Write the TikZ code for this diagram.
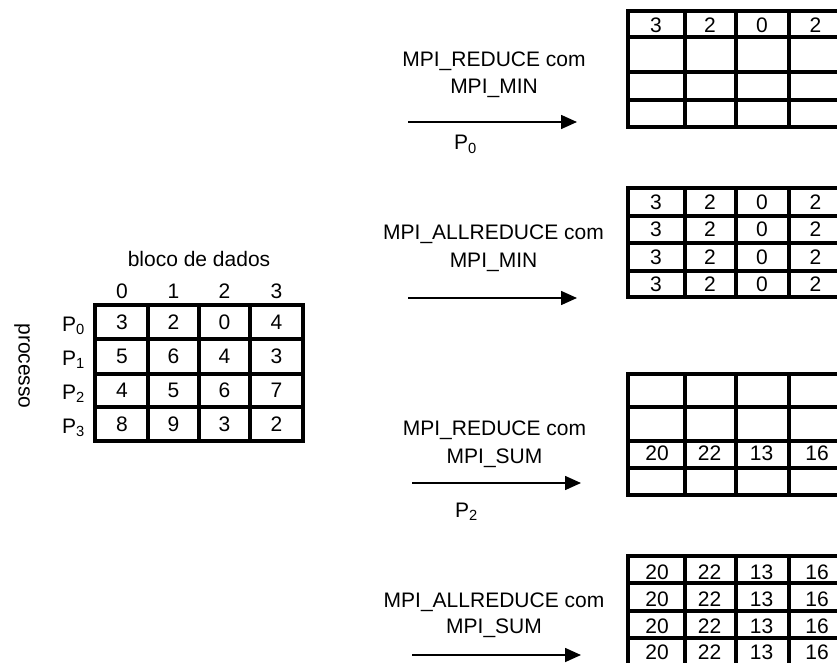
\documentclass[tikz,border=0pt]{standalone}
\usepackage{fontspec}
\setmainfont{Liberation Sans}
\usetikzlibrary{arrows.meta}
\begin{document}
\begin{tikzpicture}[x=1pt,y=-1pt,
  grid/.style={line width=3.4pt},
  lbl/.style={inner sep=0pt,anchor=base,font=\fontsize{21}{25}\selectfont},
  cell/.style={inner sep=0pt,anchor=center,font=\fontsize{21}{25}\selectfont},
  flow/.style={line width=1.6pt,-{Triangle[length=16pt,width=14pt]}}]
\useasboundingbox (0,0) rectangle (837,663);
\clip (0,0) rectangle (837,663);

% ---------- left table ----------
\node[lbl] (title) at (199,266) {bloco de dados};
\node[lbl] (h0) at (122,298) {0};
\node[lbl] (h1) at (173.5,298) {1};
\node[lbl] (h2) at (224.5,298) {2};
\node[lbl] (h3) at (276.5,298) {3};
\node[lbl,anchor=base west] (p0) at (62,331) {P\textsubscript{0}};
\node[lbl,anchor=base west] (p1) at (62,365) {P\textsubscript{1}};
\node[lbl,anchor=base west] (p2) at (62,399) {P\textsubscript{2}};
\node[lbl,anchor=base west] (p3) at (62,433) {P\textsubscript{3}};
\node[cell,rotate=-90] (proc) at (22,366) {processo};

\draw[grid] (95,305) rectangle (303,441);
\foreach \x in {148,199,250} \draw[grid] (\x,305) -- (\x,441);
\foreach \y in {339,374,407} \draw[grid] (95,\y) -- (303,\y);
\foreach \r/\y/\a/\b/\c/\d in {0/322/3/2/0/4,1/356.5/5/6/4/3,2/390.5/4/5/6/7,3/424/8/9/3/2}{
  \node[cell] (L\r-0) at (122,\y) {\a};
  \node[cell] (L\r-1) at (173.5,\y) {\b};
  \node[cell] (L\r-2) at (224.5,\y) {\c};
  \node[cell] (L\r-3) at (276.5,\y) {\d};
}

% ---------- right tables: grid lines ----------
% table 1
\draw[grid] (628,11) rectangle (842,127);
\foreach \x in {685,736,789} \draw[grid] (\x,11) -- (\x,127);
\foreach \y in {37,72,100} \draw[grid] (628,\y) -- (842,\y);
% table 2
\draw[grid] (628,188) rectangle (842,297);
\foreach \x in {685,736,789} \draw[grid] (\x,188) -- (\x,297);
\foreach \y in {216,243,271} \draw[grid] (628,\y) -- (842,\y);
% table 3
\draw[grid] (628,374) rectangle (842,495);
\foreach \x in {685,736,789} \draw[grid] (\x,374) -- (\x,495);
\foreach \y in {407,441,468} \draw[grid] (628,\y) -- (842,\y);
% table 4
\draw[grid] (628,556) rectangle (842,668);
\foreach \x in {685,736,789} \draw[grid] (\x,556) -- (\x,668);
\foreach \y in {583,611,638} \draw[grid] (628,\y) -- (842,\y);

% ---------- right tables: values ----------
\node[cell] (A0) at (656,25) {3};
\node[cell] (A1) at (710,25) {2};
\node[cell] (A2) at (762,25) {0};
\node[cell] (A3) at (815.5,25) {2};

\foreach \r/\y in {0/202,1/229.5,2/257,3/284.5}{
  \node[cell] (B\r-0) at (656,\y) {3};
  \node[cell] (B\r-1) at (710,\y) {2};
  \node[cell] (B\r-2) at (762,\y) {0};
  \node[cell] (B\r-3) at (815.5,\y) {2};
}

\node[cell] (C0) at (657,453) {20};
\node[cell] (C1) at (709.5,453) {22};
\node[cell] (C2) at (761.5,453) {13};
\node[cell] (C3) at (817,453) {16};

\foreach \r/\y in {0/572,1/599,2/626,3/652}{
  \node[cell] (D\r-0) at (657,\y) {20};
  \node[cell] (D\r-1) at (709.5,\y) {22};
  \node[cell] (D\r-2) at (761.5,\y) {13};
  \node[cell] (D\r-3) at (817,\y) {16};
}

% ---------- arrows and labels ----------
\node[lbl] (t1a) at (494,67) {MPI\_REDUCE com};
\node[lbl] (t1b) at (494,94) {MPI\_MIN};
\coordinate (s1) at (408,122);
\coordinate (e1) at (577,122);
\draw[flow] (s1) -- (e1);
\node[lbl,anchor=base west] (r1) at (454,150) {P\textsubscript{0}};

\node[lbl] (t2a) at (493.5,239) {MPI\_ALLREDUCE com};
\node[lbl] (t2b) at (493.5,267) {MPI\_MIN};
\coordinate (s2) at (408,298);
\coordinate (e2) at (577,298);
\draw[flow] (s2) -- (e2);

\node[lbl] (t3a) at (494.5,435) {MPI\_REDUCE com};
\node[lbl] (t3b) at (494.5,463) {MPI\_SUM};
\coordinate (s3) at (412,483);
\coordinate (e3) at (581,483);
\draw[flow] (s3) -- (e3);
\node[lbl,anchor=base west] (r3) at (455,517) {P\textsubscript{2}};

\node[lbl] (t4a) at (494,607) {MPI\_ALLREDUCE com};
\node[lbl] (t4b) at (494,633) {MPI\_SUM};
\coordinate (s4) at (412,655);
\coordinate (e4) at (581,655);
\draw[flow] (s4) -- (e4);
\end{tikzpicture}
\end{document}
